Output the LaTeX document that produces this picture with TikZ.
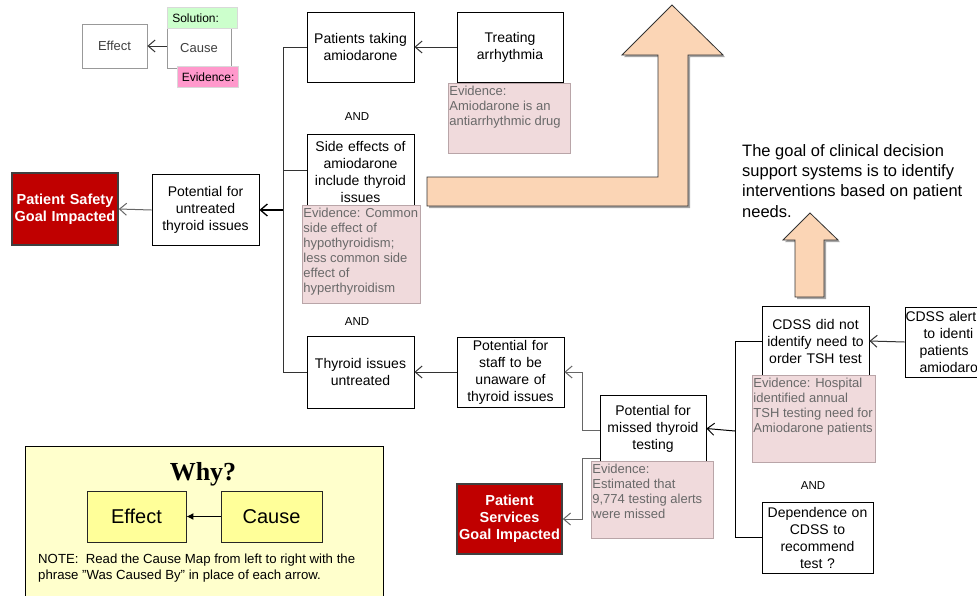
\documentclass[tikz,border=0pt]{standalone}
\usepackage{fontspec}
\setmainfont{Liberation Sans}
\newfontfamily\whyfont{Liberation Serif}
\usetikzlibrary{arrows.meta}
\definecolor{evfill}{RGB}{240,218,220}
\definecolor{evdraw}{RGB}{185,165,168}
\definecolor{evtext}{RGB}{105,105,105}
\definecolor{peach}{RGB}{251,213,181}
\definecolor{goalred}{RGB}{192,0,0}
\definecolor{solgreen}{RGB}{204,255,204}
\definecolor{evpink}{RGB}{255,153,204}
\definecolor{whybg}{RGB}{255,255,204}
\definecolor{whybox}{RGB}{255,255,153}
\newcommand{\evpar}[3]{\parbox[t][#2][t]{#1}{\raggedright\strut #3}}
\begin{document}
\begin{tikzpicture}[x=1pt,y=-1pt,
  box/.style={draw=black, fill=white, line width=0.8pt, align=center, inner sep=0pt,
    text width=106pt, font=\fontsize{14}{17}\selectfont},
  goal/.style={draw=black!75, fill=goalred, line width=1.6pt, align=center, inner sep=0pt,
    text width=104pt, text=white, font=\fontsize{14.5}{17}\selectfont\bfseries},
  evid/.style={draw=evdraw, fill=evfill, line width=0.8pt, inner xsep=1pt, inner ysep=2pt, anchor=north west,
    text=evtext, font=\fontsize{13}{15}\selectfont},
  andlbl/.style={font=\fontsize{11.5}{13}\selectfont, inner sep=0pt},
  conn/.style={draw=black!80, line width=1pt},
  arr/.style={draw=black!80, line width=1pt, -{Straight Barb[length=7pt,width=12pt]}},
  lbox/.style={draw=black!40, fill=white, line width=0.8pt, inner sep=0pt, text=black!75,
    font=\fontsize{13}{15}\selectfont},
  ltag/.style={draw=black!15, line width=0.6pt, inner sep=0pt, anchor=north west, align=left,
    font=\fontsize{12}{14}\selectfont},
  bigarrow/.style={fill=peach, draw=black!80, line width=0.8pt},
  ybox/.style={draw=black!85, fill=whybox, line width=0.9pt, minimum width=100pt,
    minimum height=51pt, inner sep=0pt, font=\fontsize{20}{24}\selectfont}
]
\useasboundingbox (0,0) rectangle (977,595);
\clip (0,0) rectangle (977,595);

% ---------- big arrows ----------
\fill[black!35] (429,179) -- (660,179) -- (660,57) -- (624,57) -- (674,7) -- (725,57) -- (690,57) -- (690,208) -- (429,208) -- cycle;
\path[bigarrow] (427,177) -- (658,177) -- (658,55) -- (622,55) -- (672,5) -- (723,55) -- (688,55) -- (688,206) -- (427,206) -- cycle;
\fill[black!35] (797,299) -- (797,242) -- (785,242) -- (812,215) -- (840,242) -- (826,242) -- (826,299) -- cycle;
\path[bigarrow] (795,297) -- (795,240) -- (783,240) -- (810,213) -- (838,240) -- (824,240) -- (824,297) -- cycle;

\node[anchor=north west, inner sep=0pt, align=left, font=\fontsize{16.5}{20.4}\selectfont] (goaltext) at (742,144)
  {The goal of clinical decision\\support systems is to identify\\interventions based on patient\\needs.};

% ---------- legend ----------
\node[lbox, minimum width=65pt, minimum height=44pt] (leff) at (114.5,46) {Effect};
\node[lbox, minimum width=64pt, minimum height=40pt] (lcau) at (199,48.5) {Cause};
\node[ltag, fill=solgreen, minimum width=70pt, minimum height=21pt, text width=66pt] (lsol) at (167,7) {\hspace*{3pt}Solution:};
\node[ltag, fill=evpink, minimum width=61pt, minimum height=21pt, text width=58pt] (lev) at (177,66) {\hspace*{3pt}Evidence:};
\draw[arr] (lcau.west |- leff.east) -- (leff.east);

% ---------- junction coordinates ----------
\coordinate (j1) at (283,210);
\coordinate (j2) at (735,431);
\coordinate (j3) at (582,430);
\coordinate (j4) at (582,458);
\coordinate (m2) at (600,458);

% ---------- main boxes ----------
\node[box, minimum width=107pt, minimum height=70pt] (pat) at (360.5,47) {Patients taking\\amiodarone};
\node[box, minimum width=106pt, minimum height=70pt] (treat) at (510,47) {Treating\\arrhythmia};
\node[box, minimum width=107pt, minimum height=76pt] (side) at (360.5,172) {Side effects of\\amiodarone\\include thyroid\\issues};
\node[box, minimum width=107pt, minimum height=72pt] (thy) at (360.5,372) {Thyroid issues\\untreated};
\node[box, minimum width=107pt, minimum height=71pt] (pot) at (205.5,210) {Potential for\\untreated\\thyroid issues};
\node[goal, minimum width=106pt, minimum height=72pt] (safety) at (65,209) {Patient Safety\\Goal Impacted};
\node[box, minimum width=107pt, minimum height=70pt] (staff) at (510.5,372) {Potential for\\staff to be\\unaware of\\thyroid issues};
\node[box, minimum width=106pt, minimum height=67pt] (missed) at (653,428.5) {Potential for\\missed thyroid\\testing};
\node[goal, minimum width=105pt, minimum height=70pt] (services) at (509.5,519) {Patient\\Services\\Goal Impacted};
\node[box, minimum width=107pt, minimum height=69pt] (cdss) at (815.5,341) {CDSS did not\\identify need to\\order TSH test};
\node[box, minimum width=107pt, minimum height=70pt, align=left, text width=104pt] (alerts) at (958.5,342)
  {\hspace*{-1pt}CDSS alert\\\hspace*{17pt}to identi\\\hspace*{13pt}patients\\\hspace*{13pt}amiodaro};
\node[box, minimum width=111pt, minimum height=71pt] (dep) at (817.5,537.5) {Dependence on\\CDSS to\\recommend\\test ?};

% ---------- AND labels ----------
\node[andlbl] (and1) at (357,117) {AND};
\node[andlbl] (and2) at (357,322) {AND};
\node[andlbl] (and3) at (813,486) {AND};

% ---------- connectors ----------
\draw[arr] (treat.west) -- (pat.east);
\draw[conn] (pat.west) -| (j1);
\draw[conn] (thy.west) -| (j1);
\draw[conn] (side.west |- 0,170) -- (j1 |- 0,170);
\draw[arr, line width=1.3pt, draw=black] (j1) -- (pot.east);
\draw[arr, draw=black!60] (pot.west) -- (safety.east);
\draw[arr] (staff.west) -- (thy.east);
\draw[arr, draw=black!60] (missed.west |- j3) -- (j3) |- (staff.east);
\draw[arr, draw=black!60] (m2) -- (j4) |- (services.east);
\draw[arr] (alerts.west) -- (cdss.east);
\draw[conn, draw=black] (cdss.west) -| (j2);
\draw[conn, draw=black] (dep.west) -| (j2);
\draw[arr, draw=black] (j2) -- (missed.east);

% ---------- evidence boxes ----------
\node[evid] (ev1) at (448,83) {\evpar{120pt}{66pt}{Evidence:\\Amiodarone is an\\antiarrhythmic drug}};
\node[evid] (ev2) at (302,205) {\evpar{116pt}{94pt}{Evidence: Common\\side effect of\\hypothyroidism;\\less common side\\effect of\\hyperthyroidism}};
\node[evid] (ev3) at (752,375) {\evpar{121pt}{83pt}{Evidence: Hospital\\identified annual\\TSH testing need for\\Amiodarone patients}};
\node[evid] (ev4) at (591,461) {\evpar{120pt}{73pt}{Evidence:\\Estimated that\\9,774 testing alerts\\were missed}};

% ---------- Why? legend ----------
\node[draw=black, fill=whybg, line width=0.9pt, anchor=north west, minimum width=358pt, minimum height=160pt, inner sep=0pt] (whyframe) at (25,446) {};
\node[inner sep=0pt, font=\whyfont\fontsize{26}{30}\selectfont\bfseries] (whytitle) at (203,474) {Why?};
\node[ybox, minimum width=99pt] (weff) at (136.5,516.5) {Effect};
\node[ybox, minimum width=101pt] (wcau) at (271.5,516.5) {Cause};
\draw[draw=black, line width=1pt, -{Latex[length=7pt,width=7pt]}] (wcau.west) -- (weff.east);
\node[anchor=north west, inner sep=0pt, align=left, font=\fontsize{13.2}{16}\selectfont] (note) at (38,554)
  {NOTE:\ \ Read the Cause Map from left to right with the\\phrase "Was Caused By" in place of each arrow.};
\end{tikzpicture}
\end{document}
